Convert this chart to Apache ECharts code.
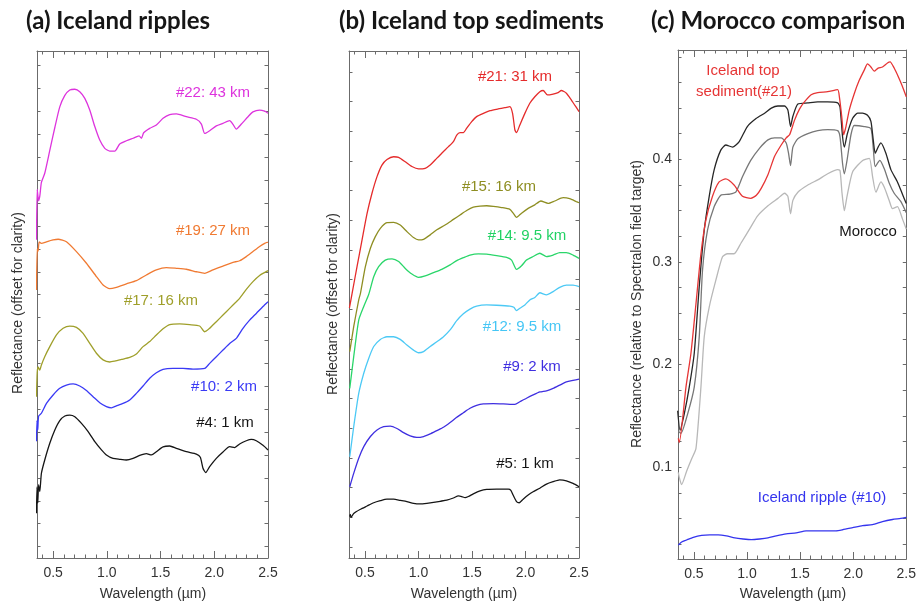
<!DOCTYPE html>
<html>
<head>
<meta charset="utf-8">
<title>Reflectance spectra: Iceland ripples, top sediments, Morocco comparison</title>
<script src="https://cdn.jsdelivr.net/npm/echarts@6/dist/echarts.min.js"></script>
<style>
  html, body { margin: 0; padding: 0; background: #fff; }
  #chart { width: 919px; height: 602px; }
</style>
</head>
<body>
<div id="chart"></div>
<script>
// Wavelength axis (µm), shared by the three panels
const X_MIN = 0.35;
const X_MAX = 2.5;
const xMajorTicks = [0.5, 1.0, 1.5, 2.0, 2.5];
const xMinorTicks = [0.4, 0.5, 0.6, 0.7, 0.8, 0.9, 1.0, 1.1, 1.2, 1.3, 1.4, 1.5, 1.6, 1.7, 1.8, 1.9, 2.0, 2.1, 2.2, 2.3, 2.4];

// (a) and (b): offset reflectance, in tick units (no labels on the axis)
const aTicks = [0, 1, 2, 3, 4, 5, 6, 7, 8, 9, 10, 11, 12, 13, 14, 15, 16, 17, 18, 19, 20, 21];
const bTicks = [0, 1, 2, 3, 4, 5, 6, 7, 8, 9, 10, 11, 12, 13, 14, 15, 16];
// (c): absolute reflectance
const cTicks = [0.025, 0.05, 0.075, 0.1, 0.125, 0.15, 0.175, 0.2, 0.225, 0.25, 0.275, 0.3,
  0.325, 0.35, 0.375, 0.4, 0.425, 0.45, 0.475, 0.5];
const cLabels = [0.1, 0.2, 0.3, 0.4];

// ---- (a) Iceland ripples ----
const a22 = [[0.345,13.4],[0.352,15.6],[0.365,15.1],[0.376,15.3],[0.391,15.9],[0.422,16.3],[0.469,17.3],[0.516,18.3],[0.562,19.2],[0.609,19.7],[0.655,19.94],[0.702,19.97],[0.748,19.86],[0.795,19.57],[0.841,19.06],[0.888,18.34],[0.934,17.75],[0.981,17.39],[1.027,17.27],[1.074,17.27],[1.12,17.58],[1.182,17.72],[1.244,17.83],[1.30,17.93],[1.322,17.83],[1.343,18.07],[1.399,18.26],[1.461,18.41],[1.523,18.70],[1.585,18.86],[1.647,18.89],[1.74,18.77],[1.833,18.66],[1.88,18.45],[1.911,18.04],[1.957,18.16],[2.019,18.37],[2.081,18.48],[2.143,18.60],[2.174,18.44],[2.205,18.23],[2.252,18.45],[2.314,18.77],[2.36,18.98],[2.422,19.06],[2.469,19.01],[2.5,18.92]];
const a19 = [[0.345,11.2],[0.352,13.0],[0.36,12.9],[0.37,13.3],[0.391,13.24],[0.438,13.31],[0.5,13.39],[0.547,13.42],[0.624,13.31],[0.717,12.88],[0.81,12.37],[0.903,11.79],[0.965,11.42],[1.027,11.26],[1.089,11.32],[1.182,11.47],[1.275,11.61],[1.368,11.86],[1.461,12.08],[1.554,12.18],[1.647,12.15],[1.74,12.11],[1.833,12.0],[1.911,11.93],[1.988,12.08],[2.081,12.25],[2.174,12.41],[2.236,12.48],[2.298,12.66],[2.36,12.88],[2.422,13.1],[2.469,13.24],[2.5,13.29]];
const a17 = [[0.345,6.54],[0.352,7.6],[0.36,7.85],[0.375,7.7],[0.391,7.93],[0.422,8.29],[0.469,8.73],[0.531,9.24],[0.593,9.53],[0.655,9.63],[0.717,9.57],[0.779,9.31],[0.841,8.87],[0.903,8.44],[0.965,8.15],[1.027,8.06],[1.074,8.10],[1.136,8.17],[1.213,8.26],[1.275,8.41],[1.337,8.73],[1.399,8.95],[1.461,9.24],[1.523,9.51],[1.585,9.69],[1.678,9.72],[1.771,9.69],[1.864,9.63],[1.911,9.38],[1.957,9.53],[2.019,9.82],[2.081,10.11],[2.143,10.40],[2.205,10.69],[2.236,10.84],[2.298,11.23],[2.36,11.57],[2.422,11.84],[2.5,12.05]];
const a10 = [[0.345,4.6],[0.35,5.5],[0.357,5.1],[0.365,5.7],[0.391,5.82],[0.438,6.25],[0.5,6.62],[0.562,6.91],[0.624,7.05],[0.686,7.10],[0.748,7.01],[0.81,6.81],[0.872,6.54],[0.934,6.28],[0.996,6.11],[1.043,6.06],[1.089,6.14],[1.151,6.25],[1.213,6.40],[1.275,6.69],[1.337,7.01],[1.399,7.35],[1.461,7.59],[1.523,7.74],[1.616,7.78],[1.709,7.78],[1.802,7.75],[1.911,7.78],[1.957,8.0],[2.019,8.29],[2.081,8.58],[2.143,8.87],[2.205,9.09],[2.267,9.53],[2.329,9.89],[2.391,10.18],[2.453,10.48],[2.5,10.69]];
const a4 = [[0.345,1.45],[0.35,2.6],[0.357,1.9],[0.365,2.7],[0.376,2.4],[0.391,3.2],[0.422,3.78],[0.469,4.51],[0.516,5.09],[0.562,5.50],[0.609,5.70],[0.655,5.74],[0.702,5.67],[0.764,5.38],[0.826,5.02],[0.888,4.58],[0.95,4.22],[0.996,4.0],[1.058,3.85],[1.12,3.81],[1.182,3.78],[1.244,3.85],[1.306,3.98],[1.368,4.06],[1.415,4.0],[1.461,4.14],[1.523,4.35],[1.585,4.39],[1.647,4.29],[1.74,4.14],[1.833,4.04],[1.87,3.90],[1.895,3.42],[1.92,3.23],[1.957,3.49],[2.019,3.85],[2.081,4.13],[2.143,4.36],[2.19,4.32],[2.236,4.48],[2.298,4.62],[2.345,4.68],[2.391,4.62],[2.453,4.42],[2.5,4.22]];

// ---- (b) Iceland top sediments ----
const b21 = [[0.354,8.05],[0.379,8.54],[0.425,9.44],[0.472,10.34],[0.519,11.23],[0.565,11.91],[0.612,12.47],[0.658,12.86],[0.705,13.05],[0.767,13.14],[0.814,13.12],[0.876,12.97],[0.938,12.81],[1.0,12.73],[1.062,12.75],[1.109,12.86],[1.155,13.03],[1.217,13.26],[1.28,13.48],[1.326,13.65],[1.357,13.87],[1.388,13.95],[1.419,13.95],[1.45,14.10],[1.497,14.32],[1.543,14.49],[1.606,14.60],[1.668,14.69],[1.745,14.75],[1.807,14.79],[1.854,14.83],[1.879,14.60],[1.901,14.04],[1.916,13.95],[1.947,14.21],[1.994,14.60],[2.04,14.94],[2.087,15.16],[2.134,15.33],[2.165,15.37],[2.205,15.22],[2.258,15.25],[2.304,15.30],[2.335,15.37],[2.382,15.28],[2.429,15.05],[2.475,14.80],[2.5,14.66]];
const b15 = [[0.357,6.58],[0.394,7.42],[0.441,8.32],[0.457,8.54],[0.503,9.44],[0.55,10.06],[0.596,10.45],[0.643,10.73],[0.705,10.92],[0.767,10.93],[0.829,10.84],[0.891,10.62],[0.953,10.42],[1.0,10.34],[1.047,10.36],[1.109,10.51],[1.171,10.68],[1.248,10.84],[1.326,11.03],[1.388,11.18],[1.45,11.33],[1.512,11.44],[1.575,11.48],[1.637,11.49],[1.699,11.47],[1.776,11.43],[1.854,11.37],[1.885,11.24],[1.916,11.10],[1.963,11.24],[2.025,11.40],[2.087,11.52],[2.143,11.65],[2.211,11.57],[2.273,11.65],[2.351,11.76],[2.413,11.73],[2.475,11.63],[2.5,11.59]];
const b14 = [[0.357,5.34],[0.394,6.41],[0.441,7.64],[0.488,8.1],[0.534,8.5],[0.581,9.10],[0.627,9.44],[0.689,9.66],[0.752,9.70],[0.814,9.61],[0.876,9.38],[0.938,9.19],[1.0,9.08],[1.062,9.13],[1.14,9.24],[1.217,9.35],[1.295,9.50],[1.357,9.64],[1.419,9.74],[1.481,9.83],[1.559,9.87],[1.637,9.86],[1.73,9.81],[1.823,9.75],[1.87,9.66],[1.916,9.35],[1.963,9.47],[2.009,9.66],[2.071,9.78],[2.134,9.89],[2.196,9.78],[2.258,9.83],[2.32,9.91],[2.382,9.91],[2.444,9.83],[2.5,9.72]];
const b12 = [[0.357,3.04],[0.394,4.05],[0.441,5.17],[0.488,5.85],[0.534,6.35],[0.581,6.75],[0.643,6.99],[0.705,7.08],[0.767,7.08],[0.829,6.99],[0.891,6.80],[0.953,6.63],[1.0,6.54],[1.047,6.58],[1.109,6.75],[1.171,6.91],[1.233,7.08],[1.295,7.31],[1.357,7.62],[1.419,7.85],[1.481,8.01],[1.543,8.11],[1.637,8.15],[1.73,8.14],[1.854,8.11],[1.891,8.07],[1.916,7.96],[1.947,8.04],[1.994,8.15],[2.04,8.32],[2.087,8.40],[2.134,8.56],[2.196,8.49],[2.258,8.60],[2.32,8.74],[2.382,8.82],[2.444,8.82],[2.5,8.77]];
const b9 = [[0.357,2.03],[0.394,2.48],[0.441,2.99],[0.488,3.38],[0.55,3.72],[0.612,3.94],[0.674,4.05],[0.736,4.07],[0.798,3.99],[0.86,3.85],[0.922,3.74],[0.984,3.69],[1.047,3.72],[1.109,3.81],[1.171,3.92],[1.233,4.03],[1.295,4.19],[1.357,4.37],[1.419,4.52],[1.481,4.67],[1.543,4.77],[1.606,4.82],[1.699,4.83],[1.792,4.82],[1.901,4.80],[1.947,4.89],[2.009,5.01],[2.071,5.12],[2.134,5.22],[2.196,5.26],[2.258,5.34],[2.32,5.45],[2.382,5.56],[2.444,5.61],[2.5,5.65]];
const b5 = [[0.357,1.02],[0.362,1.1],[0.37,1.0],[0.394,1.13],[0.457,1.27],[0.519,1.38],[0.581,1.49],[0.643,1.56],[0.705,1.61],[0.767,1.61],[0.829,1.57],[0.891,1.53],[0.953,1.47],[1.016,1.45],[1.078,1.47],[1.14,1.50],[1.202,1.54],[1.264,1.58],[1.326,1.65],[1.373,1.72],[1.404,1.70],[1.435,1.66],[1.466,1.70],[1.512,1.79],[1.575,1.89],[1.637,1.94],[1.73,1.95],[1.839,1.95],[1.863,1.91],[1.885,1.74],[1.916,1.53],[1.941,1.49],[1.978,1.61],[2.025,1.75],[2.071,1.86],[2.134,1.98],[2.196,2.12],[2.258,2.20],[2.32,2.26],[2.382,2.23],[2.444,2.14],[2.5,2.03]];

// ---- (c) Morocco comparison ----
const cMorocco1 = [[0.347,0.155],[0.369,0.136],[0.409,0.152],[0.456,0.178],[0.503,0.211],[0.55,0.276],[0.597,0.331],[0.644,0.364],[0.691,0.390],[0.753,0.409],[0.80,0.414],[0.863,0.412],[0.925,0.417],[1.003,0.432],[1.088,0.440],[1.166,0.445],[1.229,0.450],[1.291,0.452],[1.354,0.452],[1.385,0.448],[1.41,0.432],[1.432,0.442],[1.479,0.454],[1.573,0.455],[1.666,0.456],[1.76,0.456],[1.854,0.455],[1.876,0.451],[1.90,0.422],[1.917,0.412],[1.945,0.425],[1.995,0.440],[2.042,0.445],[2.088,0.445],[2.135,0.443],[2.167,0.437],[2.19,0.418],[2.207,0.406],[2.235,0.412],[2.261,0.416],[2.308,0.406],[2.355,0.390],[2.417,0.378],[2.464,0.366],[2.5,0.357]];
const cMorocco2 = [[0.353,0.135],[0.378,0.133],[0.441,0.152],[0.503,0.178],[0.55,0.227],[0.581,0.292],[0.628,0.331],[0.691,0.354],[0.753,0.365],[0.832,0.366],[0.894,0.368],[0.957,0.383],[1.035,0.399],[1.119,0.411],[1.197,0.419],[1.26,0.421],[1.322,0.421],[1.369,0.416],[1.391,0.406],[1.41,0.394],[1.432,0.412],[1.479,0.420],[1.573,0.425],[1.666,0.428],[1.76,0.429],[1.854,0.428],[1.876,0.422],[1.90,0.396],[1.917,0.386],[1.942,0.399],[1.979,0.424],[2.01,0.433],[2.104,0.432],[2.167,0.430],[2.19,0.410],[2.207,0.393],[2.251,0.399],[2.292,0.391],[2.339,0.377],[2.386,0.367],[2.448,0.359],[2.5,0.348]];
const cMorocco3 = [[0.353,0.095],[0.362,0.090],[0.384,0.083],[0.431,0.096],[0.478,0.108],[0.519,0.118],[0.566,0.178],[0.597,0.227],[0.644,0.256],[0.706,0.282],[0.769,0.305],[0.816,0.308],[0.878,0.308],[0.941,0.318],[1.035,0.334],[1.10,0.345],[1.20,0.355],[1.291,0.362],[1.354,0.367],[1.385,0.364],[1.41,0.347],[1.432,0.360],[1.479,0.368],[1.573,0.375],[1.666,0.380],[1.76,0.386],[1.854,0.390],[1.876,0.389],[1.895,0.367],[1.917,0.350],[1.942,0.364],[1.995,0.388],[2.089,0.399],[2.152,0.401],[2.183,0.383],[2.214,0.368],[2.261,0.378],[2.292,0.373],[2.339,0.360],[2.37,0.352],[2.417,0.354],[2.464,0.342],[2.5,0.332]];
const cIceland21 = [[0.353,0.128],[0.362,0.124],[0.425,0.178],[0.472,0.211],[0.519,0.259],[0.566,0.308],[0.613,0.341],[0.675,0.364],[0.737,0.378],[0.80,0.381],[0.878,0.375],[0.957,0.364],[1.035,0.362],[1.088,0.365],[1.135,0.372],[1.197,0.385],[1.26,0.403],[1.322,0.414],[1.369,0.421],[1.401,0.424],[1.447,0.438],[1.494,0.449],[1.541,0.456],[1.604,0.463],[1.666,0.465],[1.76,0.466],[1.854,0.468],[1.87,0.461],[1.892,0.442],[1.91,0.424],[1.932,0.432],[1.963,0.448],[2.01,0.464],[2.057,0.477],[2.104,0.487],[2.135,0.493],[2.167,0.490],[2.198,0.486],[2.235,0.489],[2.276,0.490],[2.323,0.494],[2.348,0.495],[2.386,0.489],[2.423,0.481],[2.464,0.471],[2.5,0.461]];
const cIceland10 = [[0.353,0.024],[0.384,0.027],[0.431,0.029],[0.494,0.0316],[0.572,0.0335],[0.65,0.034],[0.728,0.034],[0.806,0.033],[0.885,0.031],[0.963,0.030],[1.041,0.0294],[1.119,0.030],[1.197,0.031],[1.275,0.033],[1.369,0.035],[1.463,0.036],[1.557,0.038],[1.651,0.038],[1.745,0.038],[1.838,0.038],[1.901,0.039],[1.995,0.041],[2.089,0.043],[2.182,0.044],[2.276,0.047],[2.37,0.049],[2.448,0.050],[2.5,0.051]];

const FRAME = '#6b6b6b';
const TEXT = '#333333';
const SANS = '"Liberation Sans", Arial, sans-serif';

// grid + 4 x axes (major/minor, bottom/top) + 2 y axes (left/right) for one panel
function panelAxes(grid, yMin, yMax, yTicks, yLabels) {
  const line = { show: true, onZero: false, lineStyle: { color: FRAME, width: 1 } };
  const noLine = { show: false, onZero: false };
  const tick = (values, length) => ({
    show: true, inside: true, length, customValues: values,
    lineStyle: { color: FRAME, width: 1 },
  });
  const xs = [];
  ['bottom', 'top'].forEach((pos) => {
    xs.push({
      gridIndex: grid, type: 'value', position: pos, min: X_MIN, max: X_MAX,
      axisLine: line, splitLine: { show: false },
      axisTick: tick(xMajorTicks, 7),
      axisLabel: {
        show: pos === 'bottom', customValues: xMajorTicks, margin: 8,
        formatter: (v) => v.toFixed(1), color: TEXT, fontSize: 14, fontFamily: SANS,
      },
    });
    xs.push({
      gridIndex: grid, type: 'value', position: pos, min: X_MIN, max: X_MAX,
      axisLine: noLine, splitLine: { show: false },
      axisTick: tick(xMinorTicks, 3.5), axisLabel: { show: false },
    });
  });
  const ys = ['left', 'right'].map((pos) => ({
    gridIndex: grid, type: 'value', position: pos, min: yMin, max: yMax,
    axisLine: line, splitLine: { show: false },
    axisTick: tick(yTicks, 3.5),
    axisLabel: yLabels && pos === 'left' ? {
      show: true, customValues: yLabels, margin: 6,
      formatter: (v) => v.toFixed(1), color: TEXT, fontSize: 14, fontFamily: SANS,
    } : { show: false },
  }));
  return { xs, ys };
}

const panels = [
  panelAxes(0, -0.5, 21.64, aTicks, null),
  panelAxes(1, -0.37, 16.70, bTicks, null),
  panelAxes(2, 0.0105, 0.5066, cTicks, cLabels),
];

function curve(panel, data, color, width) {
  return {
    type: 'line', data, xAxisIndex: panel * 4, yAxisIndex: panel * 2,
    showSymbol: false, symbol: 'none', smooth: 0.2, silent: true,
    lineStyle: { color, width: width || 1.3 },
  };
}

const series = [
  curve(0, a4, '#151515'),
  curve(0, a10, '#3a3af5'),
  curve(0, a17, '#9f9f2a'),
  curve(0, a19, '#f07a32'),
  curve(0, a22, '#dd33dd'),
  curve(1, b5, '#151515'),
  curve(1, b9, '#3f2fe0'),
  curve(1, b12, '#4cc9f5'),
  curve(1, b14, '#2ad66a'),
  curve(1, b15, '#8e8e22'),
  curve(1, b21, '#e52b2b'),
  curve(2, cMorocco3, '#b8b8b8'),
  curve(2, cMorocco2, '#777777'),
  curve(2, cMorocco1, '#262626'),
  curve(2, cIceland21, '#e63535'),
  curve(2, cIceland10, '#3434ee'),
];

function label(text, x, y, color, size) {
  return {
    type: 'text', x, y, silent: true,
    style: {
      text, fill: color, font: (size || 15) + 'px ' + SANS,
      align: 'center', verticalAlign: 'middle', textAlign: 'center', textVerticalAlign: 'middle',
    },
  };
}
function vLabel(text, x, y) {
  const t = label(text, x, y, TEXT, 14);
  t.rotation = Math.PI / 2;
  return t;
}

const graphic = [
  // curve labels (a)
  label('#22: 43 km', 213, 93, '#dd33dd'),
  label('#19: 27 km', 213, 231, '#f07a32'),
  label('#17: 16 km', 161, 301, '#9f9f2a'),
  label('#10: 2 km', 224, 387, '#3a3af5'),
  label('#4: 1 km', 225, 423, '#151515'),
  // curve labels (b)
  label('#21: 31 km', 515, 77, '#e52b2b'),
  label('#15: 16 km', 499, 187, '#8e8e22'),
  label('#14: 9.5 km', 527, 236, '#22d264'),
  label('#12: 9.5 km', 522, 327, '#45c6f5'),
  label('#9: 2 km', 532, 367, '#3f2fe0'),
  label('#5: 1 km', 525, 464, '#151515'),
  // curve labels (c)
  label('Iceland top', 743, 71, '#e63535'),
  label('sediment(#21)', 744, 92, '#e63535'),
  label('Morocco', 868, 232, '#151515'),
  label('Iceland ripple (#10)', 822, 498, '#3434ee'),
  // axis names
  label('Wavelength (µm)', 153, 594, TEXT, 14),
  label('Wavelength (µm)', 464, 594, TEXT, 14),
  label('Wavelength (µm)', 793, 594, TEXT, 14),
  vLabel('Reflectance (offset for clarity)', 18, 303),
  vLabel('Reflectance (offset for clarity)', 333, 304),
  vLabel('Reflectance (relative to Spectralon field target)', 637, 304),
];

const titleStyle = { fontFamily: 'Lato, "Open Sans", sans-serif', fontWeight: 'bold', fontSize: 24, color: '#161616' };

const chart = echarts.init(document.getElementById('chart'));
chart.setOption({
  animation: false,
  backgroundColor: '#ffffff',
  title: [
    { text: '(a) Iceland ripples', left: 26, top: 9, padding: 0, textStyle: titleStyle },
    { text: '(b) Iceland top sediments', left: 339, top: 9, padding: 0, textStyle: titleStyle },
    { text: '(c) Morocco comparison', left: 651, top: 9, padding: 0, textStyle: titleStyle },
  ],
  grid: [
    { left: 37, top: 51, width: 231, height: 507, containLabel: false },
    { left: 349, top: 51, width: 230, height: 507, containLabel: false },
    { left: 678, top: 50, width: 229, height: 509, containLabel: false },
  ],
  xAxis: panels.flatMap((p) => p.xs),
  yAxis: panels.flatMap((p) => p.ys),
  series,
  graphic,
});
window.addEventListener('resize', () => chart.resize());
</script>
</body>
</html>
